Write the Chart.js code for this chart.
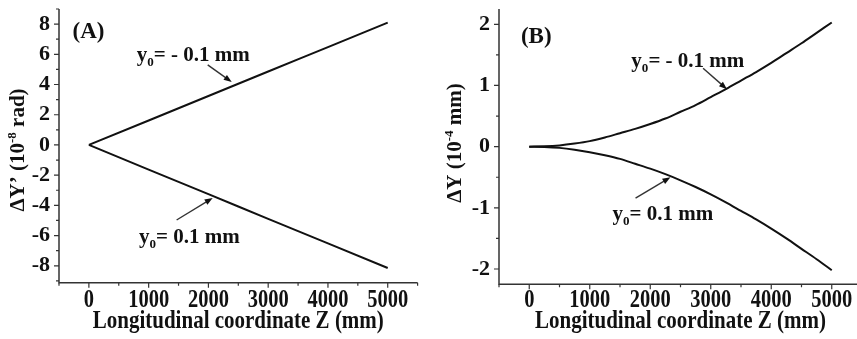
<!DOCTYPE html>
<html lang="en">
<head>
<meta charset="UTF-8">
<title>Deviation along Z</title>
<script src="https://cdn.jsdelivr.net/npm/chart.js"></script>
<style>
  html, body { margin: 0; padding: 0; background: #fff; overflow: hidden; }
  #wrap { position: relative; width: 857px; height: 339px; overflow: hidden; }
  .panel { position: absolute; top: 0; height: 339px; }
  #panelA { left: 0; width: 430px; }
  #panelB { left: 430px; width: 440px; }
</style>
</head>
<body>
<div id="wrap">
  <div class="panel" id="panelA"><canvas id="chartA" width="430" height="339"></canvas></div>
  <div class="panel" id="panelB"><canvas id="chartB" width="440" height="339"></canvas></div>
</div>
<script>
// (A) angular deviation, straight lines
const zLine = [0, 1000, 2000, 3000, 4000, 5000];
const angleMinus = [0, 1.62, 3.24, 4.86, 6.48, 8.10];      // y0 = -0.1 mm
const anglePlus  = [0, -1.63, -3.26, -4.89, -6.52, -8.15]; // y0 = 0.1 mm

// (B) transverse deviation
const zCurve = [0, 250, 500, 750, 1000, 1250, 1500, 1750, 2000, 2250, 2500,
                2750, 3000, 3250, 3500, 3750, 4000, 4250, 4500, 4750, 5000];
const offsetMinus = [0, 0.005, 0.02, 0.05, 0.09, 0.15, 0.22, 0.29, 0.37, 0.46, 0.57,
                     0.68, 0.81, 0.94, 1.08, 1.22, 1.37, 1.53, 1.69, 1.86, 2.03];
const offsetPlus  = [0, -0.005, -0.02, -0.05, -0.09, -0.14, -0.20, -0.28, -0.36, -0.45, -0.55,
                     -0.66, -0.78, -0.91, -1.05, -1.19, -1.34, -1.50, -1.67, -1.84, -2.02];

const xLabels = [0, 1000, 2000, 3000, 4000, 5000];
const yLabelsA = [-8, -6, -4, -2, 0, 2, 4, 6, 8];
const yLabelsB = [-2, -1, 0, 1, 2];

const FONT = '"Liberation Serif", "Times New Roman", serif';
const INK = '#111';
const TALL = 1.22;   // bottom-axis text is drawn a bit stretched vertically

function pts(xs, ys) {
  return xs.map((x, i) => ({ x: x, y: ys[i] }));
}

// tick values can carry float noise, so compare rounded
function isLabelled(v, list) {
  const r = Math.round(v);
  return Math.abs(v - r) < 1e-6 && list.includes(r);
}

// ticks on whole multiples of the step, whatever the axis ends are
function stepTicks(step) {
  return s => {
    const out = [];
    for (let k = Math.ceil(s.min / step - 1e-9); k * step <= s.max + 1e-9; k++) {
      out.push({ value: +(k * step).toFixed(6) });
    }
    s.ticks = out;
  };
}

// text made of runs, each run normal, 'sub' or 'sup'
function richWidth(ctx, parts, size) {
  let w = 0;
  for (const [t, kind] of parts) {
    ctx.font = 'bold ' + (kind ? size * 0.62 : size) + 'px ' + FONT;
    w += ctx.measureText(t).width;
  }
  return w;
}
function richText(ctx, parts, x, y, size) {
  let cx = x;
  ctx.textAlign = 'left';
  ctx.textBaseline = 'alphabetic';
  for (const [t, kind] of parts) {
    const s = kind ? size * 0.62 : size;
    ctx.font = 'bold ' + s + 'px ' + FONT;
    const dy = kind === 'sub' ? size * 0.24 : kind === 'sup' ? -size * 0.36 : 0;
    ctx.fillText(t, cx, y + dy);
    cx += ctx.measureText(t).width;
  }
}
function tallText(ctx, parts, cx, baseline, size) {
  const w = richWidth(ctx, parts, size);
  ctx.save();
  ctx.translate(cx - w / 2, baseline);
  ctx.scale(1, TALL);
  richText(ctx, parts, 0, 0, size);
  ctx.restore();
}

function arrow(ctx, x1, y1, x2, y2) {
  const a = Math.atan2(y2 - y1, x2 - x1);
  ctx.lineWidth = 1.4;
  ctx.beginPath();
  ctx.moveTo(x1, y1);
  ctx.lineTo(x2 - 5 * Math.cos(a), y2 - 5 * Math.sin(a));
  ctx.stroke();
  ctx.beginPath();
  ctx.moveTo(x2, y2);
  ctx.lineTo(x2 - 8 * Math.cos(a) + 3 * Math.sin(a), y2 - 8 * Math.sin(a) - 3 * Math.cos(a));
  ctx.lineTo(x2 - 8 * Math.cos(a) - 3 * Math.sin(a), y2 - 8 * Math.sin(a) + 3 * Math.cos(a));
  ctx.closePath();
  ctx.fill();
}

// axes, tick marks, titles and the curve labels
const decor = {
  id: 'decor',
  afterDraw(chart, args, o) {
    const ctx = chart.ctx;
    const xs = chart.scales.x, ys = chart.scales.y;
    const area = chart.chartArea;
    ctx.save();
    ctx.strokeStyle = '#333';
    ctx.fillStyle = INK;
    ctx.lineWidth = 1.5;
    ctx.beginPath();
    ctx.moveTo(area.left, area.top);
    ctx.lineTo(area.left, area.bottom);
    ctx.lineTo(area.right, area.bottom);
    ctx.stroke();

    ctx.lineWidth = 1.2;
    ctx.beginPath();
    xs.ticks.forEach(t => {
      const p = xs.getPixelForValue(t.value);
      const len = isLabelled(t.value, xLabels) ? 5 : 3;
      ctx.moveTo(p, area.bottom);
      ctx.lineTo(p, area.bottom + len);
    });
    ys.ticks.forEach(t => {
      const p = ys.getPixelForValue(t.value);
      const len = isLabelled(t.value, o.yLabels) ? 5 : 3;
      ctx.moveTo(area.left, p);
      ctx.lineTo(area.left - len, p);
    });
    ctx.stroke();

    // x tick labels
    xs.ticks.forEach(t => {
      if (isLabelled(t.value, xLabels)) {
        tallText(ctx, [[String(Math.round(t.value))]], xs.getPixelForValue(t.value), 307, 20.5);
      }
    });

    // x title
    tallText(ctx, [['Longitudinal coordinate Z (mm)']], (area.left + area.right) / 2, 328, 21);

    // y title, rotated
    const yw = richWidth(ctx, o.yTitle, 21);
    ctx.save();
    ctx.translate(o.yTitleX, o.yTitleY);
    ctx.rotate(-Math.PI / 2);
    richText(ctx, o.yTitle, -yw / 2, 0, 21);
    ctx.restore();

    // panel tag
    richText(ctx, [[o.tag]], xs.getPixelForValue(o.tagAt[0]), ys.getPixelForValue(o.tagAt[1]), 23);

    // curve labels with arrows
    o.notes.forEach(n => {
      richText(ctx, [['y'], ['0', 'sub'], [n.text]],
        xs.getPixelForValue(n.at[0]), ys.getPixelForValue(n.at[1]), 21);
      arrow(ctx, xs.getPixelForValue(n.from[0]), ys.getPixelForValue(n.from[1]),
                 xs.getPixelForValue(n.to[0]), ys.getPixelForValue(n.to[1]));
    });
    ctx.restore();
  }
};

function makeChart(id, cfg) {
  const lineStyle = { borderColor: INK, borderWidth: 2, pointRadius: 0, fill: false,
                      cubicInterpolationMode: 'monotone' };
  return new Chart(document.getElementById(id), {
    type: 'line',
    data: {
      datasets: [
        Object.assign({ data: pts(cfg.z, cfg.upper) }, lineStyle),
        Object.assign({ data: pts(cfg.z, cfg.lower) }, lineStyle)
      ]
    },
    options: {
      responsive: false,
      animation: false,
      layout: { padding: { top: 9, right: cfg.padRight, left: 0, bottom: 0 } },
      plugins: { legend: { display: false }, tooltip: { enabled: false }, decor: cfg.decor },
      scales: {
        x: {
          type: 'linear', min: -500, max: 5500,
          grid: { display: false, drawTicks: false },
          border: { display: false },
          afterBuildTicks: stepTicks(500),
          afterFit: s => { s.height = cfg.xHeight; s.paddingLeft = 0; s.paddingRight = 0; },
          ticks: { display: false }
        },
        y: {
          type: 'linear', min: cfg.yMin, max: cfg.yMax,
          grid: { display: false, drawTicks: false },
          border: { display: false },
          afterBuildTicks: stepTicks(cfg.yStep),
          afterFit: s => { s.width = cfg.yWidth; s.paddingTop = 0; s.paddingBottom = 0; },
          ticks: {
            padding: 9, color: INK, autoSkip: false,
            font: { family: FONT, size: 22, weight: 'bold' },
            callback: v => isLabelled(v, cfg.decor.yLabels) ? String(Math.round(v)) : ''
          }
        }
      }
    },
    plugins: [decor]
  });
}

makeChart('chartA', {
  z: zLine, upper: angleMinus, lower: anglePlus,
  yMin: -9.12, yMax: 9.0, yStep: 1,
  yWidth: 59, xHeight: 56.3, padRight: 12.4,
  decor: {
    yLabels: yLabelsA,
    yTitle: [['\u0394Y\u2019 (10'], ['-8', 'sup'], [' rad)']],
    yTitleX: 24, yTitleY: 150,
    tag: '(A)', tagAt: [-273, 7.09],
    notes: [
      { text: '= - 0.1 mm', at: [800, 5.56], from: [1988, 5.3], to: [2390, 4.17] },
      { text: '= 0.1 mm', at: [838, -6.47], from: [1468, -4.97], to: [2071, -3.51] }
    ]
  }
});

makeChart('chartB', {
  z: zCurve, upper: offsetMinus, lower: offsetPlus,
  yMin: -2.25, yMax: 2.25, yStep: 0.5,
  yWidth: 69, xHeight: 54.7, padRight: 8,
  decor: {
    yLabels: yLabelsB,
    yTitle: [['\u0394Y (10'], ['-4', 'sup'], [' mm)']],
    yTitleX: 31, yTitleY: 143,
    tag: '(B)', tagAt: [-137, 1.69],
    notes: [
      { text: '= - 0.1 mm', at: [1688, 1.30], from: [2873, 1.28], to: [3268, 0.94] },
      { text: '= 0.1 mm', at: [1377, -1.20], from: [1757, -0.84], to: [2334, -0.50] }
    ]
  }
});
</script>
</body>
</html>
